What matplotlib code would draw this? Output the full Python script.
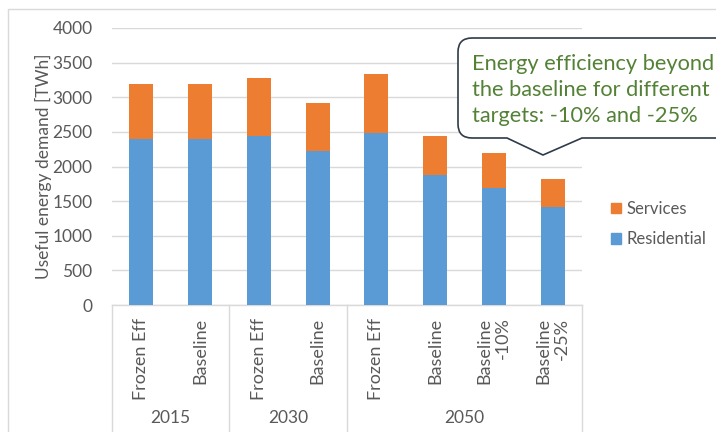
import matplotlib
matplotlib.use("Agg")
import matplotlib.pyplot as plt
from matplotlib.path import Path
from matplotlib.patches import PathPatch, Rectangle, Patch
import numpy as np

plt.rcParams['font.family'] = ['Lato', 'DejaVu Sans']

# data
scenarios = ["Frozen Eff", "Baseline", "Frozen Eff", "Baseline",
             "Frozen Eff", "Baseline", "Baseline\n-10%", "Baseline\n-25%"]
years = ["2015", "2030", "2050"]
group_sizes = [2, 2, 4]
residential = [2400, 2400, 2440, 2220, 2490, 1880, 1690, 1410]
services = [790, 790, 845, 700, 845, 555, 500, 415]

blue = "#5B9BD5"
orange = "#ED7D31"
txt = "#595959"
grid = "#D9D9D9"

W, H = 716, 432
fig = plt.figure(figsize=(W / 100, H / 100), dpi=100)
ax = fig.add_axes([112 / W, 1 - 305 / H, 470 / W, 277 / H])

x = np.arange(len(scenarios))
ax.bar(x, residential, width=0.41, color=blue, zorder=3)
ax.bar(x, services, width=0.41, bottom=residential, color=orange, zorder=3)

ax.set_xlim(-0.5, len(scenarios) - 0.5)
ax.set_ylim(0, 4000)
ax.set_yticks(np.arange(0, 4001, 500))
ax.yaxis.grid(True, color=grid, linewidth=1.0, zorder=0)
ax.tick_params(axis='y', length=0, pad=14, labelsize=12.5, labelcolor=txt)
ax.set_ylabel("Useful energy demand [TWh]", fontsize=12.5, color=txt)
ax.yaxis.set_label_coords(-0.128, 0.5)

ax.set_xticks(x)
ax.set_xticklabels(scenarios, rotation=90, multialignment='right')
ax.tick_params(axis='x', length=0, pad=9, labelsize=13, labelcolor=txt)

for s in ["top", "right", "left"]:
    ax.spines[s].set_visible(False)
ax.spines["bottom"].set_color(grid)
ax.spines["bottom"].set_linewidth(1.0)

# multi-level category axis: separators and year labels
trans = ax.get_xaxis_transform()
edges = np.concatenate([[0], np.cumsum(group_sizes)]) - 0.5
for e in edges:
    ax.plot([e, e], [0, -0.455], transform=trans, color=grid, lw=1.0, clip_on=False)
for i, yr in enumerate(years):
    c = (edges[i] + edges[i + 1]) / 2
    ax.text(c, -0.408, yr, transform=trans, ha='center', va='center',
            fontsize=12.5, color=txt)

# chart area border
fig.patches.append(Rectangle((8 / W, -0.1), 1.2, 1.1 - 9 / H, transform=fig.transFigure,
                             fill=False, edgecolor=grid, lw=1.0))

# legend
handles = [Patch(color=orange, label="Services"), Patch(color=blue, label="Residential")]
fig.legend(handles=handles, loc='center left', bbox_to_anchor=(596 / W, 1 - 224 / H),
           frameon=False, fontsize=12, labelcolor=txt, handlelength=0.6,
           handleheight=0.6, handletextpad=0.35, labelspacing=0.85)

# callout
def p(px, py):
    return (px / W, 1 - py / H)

r = 14
verts = [p(507, 138), p(543, 155), p(582, 138), p(740, 138), p(740, 38),
         p(458 + r, 38), p(458, 38), p(458, 38 + r), p(458, 138 - r),
         p(458, 138), p(458 + r, 138), p(507, 138)]
codes = [Path.MOVETO, Path.LINETO, Path.LINETO, Path.LINETO, Path.LINETO,
         Path.LINETO, Path.CURVE3, Path.CURVE3, Path.LINETO,
         Path.CURVE3, Path.CURVE3, Path.CLOSEPOLY]
fig.patches.append(PathPatch(Path(verts, codes), transform=fig.transFigure,
                             facecolor="white", edgecolor="#2E3B4A", lw=1.2))
fig.text(472 / W, 1 - 90 / H,
         "Energy efficiency beyond\nthe baseline for different\ntargets: -10% and -25%",
         ha='left', va='center', fontsize=15.7, color="#538135", linespacing=1.4)

plt.savefig("out.png", dpi=100)
